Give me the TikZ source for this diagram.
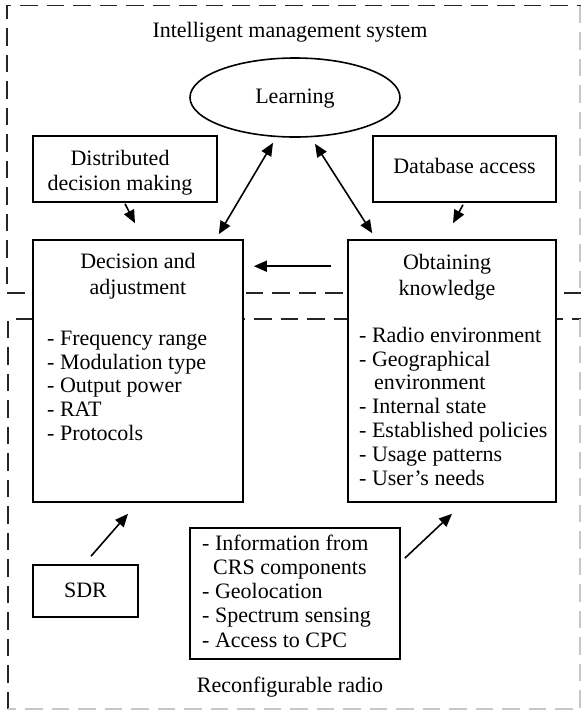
\documentclass[tikz,border=0pt]{standalone}
\usepackage{fontspec}
\setmainfont{Liberation Serif}
\usetikzlibrary{arrows.meta,calc,shapes.geometric}

\begin{document}
\begin{tikzpicture}[x=1pt,y=-1pt,
  box/.style={draw, line width=1.6pt, fill=white, inner sep=0pt},
  txt/.style={font=\fontsize{22}{26}\selectfont, inner sep=0pt},
  ttl/.style={font=\fontsize{22}{26}\selectfont, inner sep=0pt, align=center, anchor=north},
  lst/.style={font=\fontsize{22}{23.8}\selectfont, inner sep=0pt, align=left, anchor=north west},
  arr/.style={line width=1.6pt, -{Triangle[length=13pt,width=11pt]}},
  dbl/.style={line width=1.6pt, {Triangle[length=13pt,width=11pt]}-{Triangle[length=13pt,width=11pt]}},
  frame/.style={line width=1.8pt, dash pattern=on 17.5pt off 9pt, black!85},
  faint/.style={frame, black!22}
]
\useasboundingbox (0,0) rectangle (581,710);

% dashed frames of the two subsystems (outer edges fade at the border)
\draw[frame] (581,293) -- (7,293) -- (7,5.5) -- (581,5.5);
\draw[faint] (580,5.5) -- (580,293);
\draw[frame] (8,709) -- (8,319) -- (581,319);
\draw[faint] (580,319) -- (580,709) -- (8,709);

\node[txt, anchor=base] (ims) at (290,37) {Intelligent management system};
\node[txt, anchor=base] (rr) at (290,692) {Reconfigurable radio};

% learning block
\node[box, ellipse, minimum width=210pt, minimum height=79pt,
      font=\fontsize{22}{26}\selectfont, text height=15.5pt, text depth=4.5pt] (learn) at (295,97.5) {Learning};

% side inputs
\node[box, minimum width=184pt, minimum height=66pt] (dist) at (125,169) {};
\node[ttl] (distT) at (120,147) {\rule{0pt}{18pt}Distributed\\[-1pt]decision making};
\node[box, minimum width=183pt, minimum height=66pt,
      font=\fontsize{22}{26}\selectfont, text height=14pt, text depth=6pt] (db) at (464.5,169) {Database access};

% decision and adjustment
\node[box, minimum width=210pt, minimum height=262pt] (dec) at (138,371) {};
\node[ttl] (decT) at (138,250) {\rule{0pt}{18pt}Decision and\\adjustment};
\node[lst] (decL) at (47,327) {\rule{0pt}{18pt}- Frequency range\\- Modulation type\\- Output power\\- RAT\\- Protocols};

% obtaining knowledge
\node[box, minimum width=208pt, minimum height=262pt] (obt) at (452,371) {};
\node[ttl] (obtT) at (447,251) {\rule{0pt}{18pt}Obtaining\\knowledge};
\node[lst] (obtL) at (359,324) {\rule{0pt}{18pt}- Radio environment\\- Geographical\\\hspace*{15pt}environment\\- Internal state\\- Established policies\\- Usage patterns\\- User’s needs};

% radio side
\node[box, minimum width=105pt, minimum height=52pt,
      font=\fontsize{22}{26}\selectfont, text height=16pt, text depth=4pt] (sdr) at (85.5,591) {SDR};
\node[box, minimum width=210pt, minimum height=131pt] (info) at (295,593.5) {};
\node[lst, font=\fontsize{22}{24.2}\selectfont] (infoL) at (202,532) {\rule{0pt}{18pt}- Information from\\\hspace*{11pt}CRS components\\- Geolocation\\- Spectrum sensing\\- Access to CPC};

% connectors
\draw[arr] ($(dist.south)+(0,1)$) -- ($(dec.north)+(-3,-16)$);
\draw[arr] ($(db.south)+(-1.5,2)$) -- ($(obt.north)+(1,-16)$);
\draw[dbl] ($(learn.south)+(-22,5)$) -- ($(dec.north east)+(-25,-5)$);
\draw[dbl] ($(learn.south)+(20,6)$) -- ($(obt.north west)+(25,-6)$);
\draw[arr] ($(obt.north west)+(-16,27)$) -- ($(dec.north east)+(10,27)$);
\draw[arr] ($(sdr.north)+(5.5,-8)$) -- ($(dec.south)+(-10,11)$);
\draw[arr] ($(info.north east)+(4,31)$) -- ($(obt.south)+(0,11)$);
\end{tikzpicture}
\end{document}
